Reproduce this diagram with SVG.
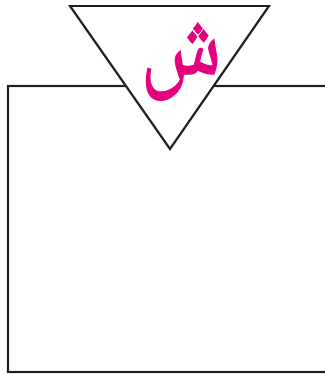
<svg xmlns="http://www.w3.org/2000/svg" width="325" height="374" viewBox="0 0 325 374">
<style>
.ln{fill:#fff;stroke:#231f20;stroke-width:2.2}
.ar{fill:#e5007e;stroke:#e5007e;stroke-width:1.2;font-family:"Noto Naskh Arabic","DejaVu Sans",sans-serif;font-size:85px}
</style>
<rect width="325" height="374" fill="#fff"/>
<g id="box"><rect class="ln" x="8" y="86" width="330" height="286"/></g>
<g id="sign">
<polygon class="ln" points="70,6 269,6 170,149"/>
<text class="ar" transform="translate(181,74) scale(0.93,1.18)" x="0" y="0" text-anchor="middle">ش</text>
</g>
</svg>
